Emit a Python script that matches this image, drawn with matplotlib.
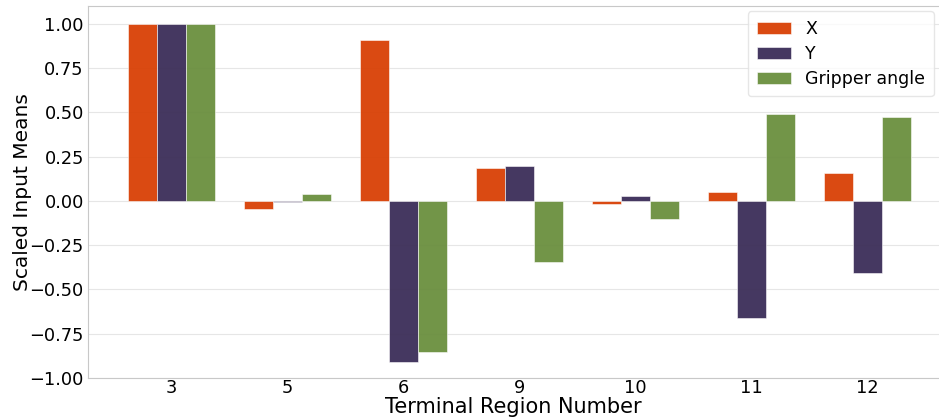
import matplotlib
matplotlib.use("Agg")
import matplotlib.pyplot as plt
import numpy as np

regions = ["3", "5", "6", "9", "10", "11", "12"]
x_vals = [1.0, -0.045, 0.91, 0.186, -0.02, 0.05, 0.155]
y_vals = [1.0, -0.005, -0.91, 0.198, 0.03, -0.66, -0.41]
g_vals = [1.0, 0.04, -0.853, -0.345, -0.105, 0.49, 0.475]
series_names = ["X", "Y", "Gripper angle"]
colors = ["#d84005", "#3b2d58", "#6a8f3e"]

fig = plt.figure(figsize=(9.39, 4.18), dpi=100)
ax = fig.add_axes([88/939, 1 - 378/418, (939 - 88)/939, (378 - 6)/418])

pos = np.arange(len(regions))
w = 0.25
for i, (vals, name, c) in enumerate(zip([x_vals, y_vals, g_vals], series_names, colors)):
    ax.bar(pos + (i - 1) * w, vals, width=w, color=c, alpha=0.95,
           edgecolor="white", linewidth=0.4, label=name, zorder=2)

ax.set_xticks(pos)
ax.set_xticklabels(regions)
ax.set_yticks(np.arange(-1.0, 1.01, 0.25))
ax.set_xlim(-0.72, 6.62)
ax.set_ylim(-1.0, 1.1)
ax.yaxis.grid(True, color="#e6e6e6", linewidth=0.8, zorder=0)
ax.set_axisbelow(True)
for s in ["left", "bottom", "top"]:
    ax.spines[s].set_color("#c8c8c8")
ax.spines["right"].set_visible(False)
ax.tick_params(axis="both", labelsize=12.8, length=0, pad=3)
ax.tick_params(axis="x", pad=1)
ax.set_xlabel("Terminal Region Number", fontsize=15)
ax.set_ylabel("Scaled Input Means", fontsize=14.5)
ax.xaxis.set_label_coords(0.5, -0.052)
ax.yaxis.set_label_coords(-0.066, 0.5)
leg = ax.legend(loc="upper right", fontsize=12.5, frameon=True, fancybox=True,
                edgecolor="#e0e0e0", handlelength=2.0, borderpad=0.5,
                labelspacing=0.4, borderaxespad=0.3)
fig.savefig("out.png", dpi=100)
